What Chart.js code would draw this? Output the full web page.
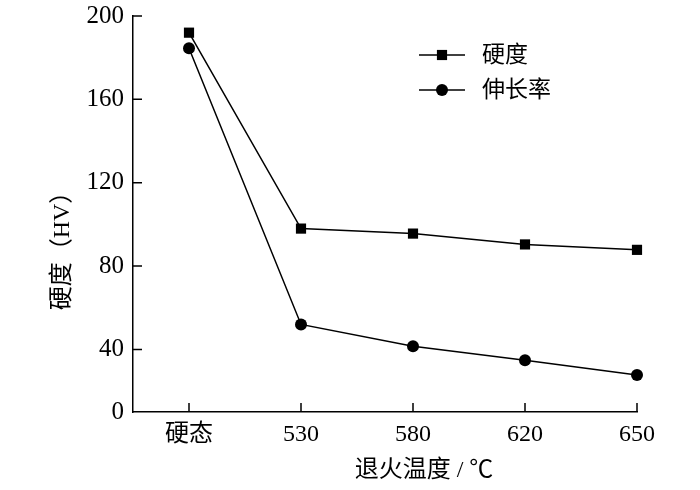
<!DOCTYPE html>
<html lang="zh">
<head>
<meta charset="UTF-8">
<title>硬度与伸长率</title>
<script src="https://cdn.jsdelivr.net/npm/chart.js"></script>
<style>
    * { margin: 0; padding: 0; box-sizing: border-box; }
    body { background: #ffffff; width: 700px; height: 490px; overflow: hidden; }
</style>
</head>
<body>
<canvas id="chart" width="700" height="490"></canvas>
<script>
    // data
    const categories = ["硬态", "530", "580", "620", "650"];
    const hardness = [192, 98, 95.6, 90.4, 87.8];
    const elongation = [184.5, 52, 41.6, 34.8, 27.7];
    const yTickLabels = [0, 40, 80, 120, 160, 200];
    const yFloor = 10;   // the bottom axis sits a little above zero, "0" is printed there
    const xTitle = "退火温度 / ℃";
    const yTitle = "硬度（HV）";

    const FONT = '"Liberation Serif", "Noto Sans CJK SC", serif';
    const toPoints = arr => arr.map((v, i) => ({ x: i, y: v }));

    // inward tick marks, axis titles, legend
    const extras = {
        id: "extras",
        afterDraw(chart) {
            const ctx = chart.ctx;
            const xs = chart.scales.x, ys = chart.scales.y;
            const area = chart.chartArea;
            ctx.save();
            ctx.strokeStyle = "#000";
            ctx.lineWidth = 1.5;
            ctx.beginPath();
            xs.ticks.forEach(t => {
                const px = xs.getPixelForValue(t.value);
                ctx.moveTo(px, area.bottom);
                ctx.lineTo(px, area.bottom - 9);
            });
            ys.ticks.forEach(t => {
                if (t.value === yFloor) return;
                const py = ys.getPixelForValue(t.value);
                ctx.moveTo(area.left, py);
                ctx.lineTo(area.left + 9, py);
            });
            ctx.stroke();

            ctx.fillStyle = "#000";
            ctx.font = "24px " + FONT;
            ctx.textAlign = "center";
            ctx.textBaseline = "middle";
            ctx.fillText(xTitle, 424, 471);
            ctx.save();
            ctx.translate(63, 245);
            ctx.rotate(-Math.PI / 2);
            ctx.fillText(yTitle, 0, 0);
            ctx.restore();

            // legend
            chart.data.datasets.forEach((ds, i) => {
                const y = 55 + i * 35;
                ctx.beginPath();
                ctx.moveTo(419, y);
                ctx.lineTo(465, y);
                ctx.stroke();
                Chart.helpers.drawPoint(ctx, {
                    pointStyle: ds.pointStyle,
                    radius: ds.pointRadius,
                    borderWidth: 0
                }, 442, y);
                ctx.font = "23px " + FONT;
                ctx.textAlign = "left";
                ctx.fillText(ds.label, 482, y + 1);
            });
            ctx.restore();
        }
    };

    new Chart(document.getElementById("chart").getContext("2d"), {
        type: "line",
        data: {
            datasets: [{
                label: "硬度",
                data: toPoints(hardness),
                borderColor: "#000",
                backgroundColor: "#000",
                borderWidth: 1.5,
                pointStyle: "rect",
                pointRadius: 7.2,
                pointBorderWidth: 0,
                clip: false
            }, {
                label: "伸长率",
                data: toPoints(elongation),
                borderColor: "#000",
                backgroundColor: "#000",
                borderWidth: 1.5,
                pointStyle: "circle",
                pointRadius: 6,
                pointBorderWidth: 0,
                clip: false
            }]
        },
        options: {
            responsive: false,
            animation: false,
            devicePixelRatio: 1,
            layout: { padding: { top: 16, right: 63, left: 0, bottom: 0 } },
            plugins: { legend: { display: false }, tooltip: { enabled: false } },
            scales: {
                x: {
                    type: "linear",
                    min: -0.5,
                    max: categories.length - 1,
                    afterBuildTicks: s => { s.ticks = categories.map((c, i) => ({ value: i })); },
                    afterFit: s => { s.height = 490 - 412; s.paddingLeft = 0; s.paddingRight = 0; },
                    grid: { drawOnChartArea: false, drawTicks: false },
                    border: { display: true, color: "#000", width: 1.5 },
                    ticks: {
                        padding: 8,
                        color: "#000",
                        font: { family: FONT, size: 24 },
                        maxRotation: 0,
                        callback: v => categories[v]
                    }
                },
                y: {
                    min: yFloor,
                    max: 200,
                    afterBuildTicks: s => {
                        s.ticks = yTickLabels.map(v => ({ value: v === 0 ? yFloor : v }));
                    },
                    afterFit: s => { s.width = 133; s.paddingTop = 0; s.paddingBottom = 0; },
                    grid: { drawOnChartArea: false, drawTicks: false },
                    border: { display: true, color: "#000", width: 1.5 },
                    ticks: {
                        padding: 9,
                        color: "#000",
                        font: { family: FONT, size: 25 },
                        callback: v => (v === yFloor ? "0" : v)
                    }
                }
            }
        },
        plugins: [extras]
    });
</script>
</body>
</html>
